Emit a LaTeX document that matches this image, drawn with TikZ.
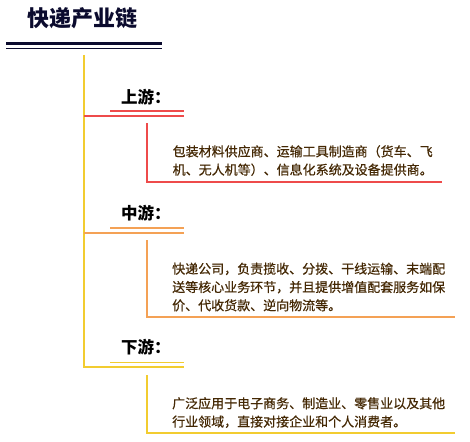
\documentclass[tikz,border=0pt]{standalone}
\usepackage{fontspec}
\newfontfamily\cjk{Noto Sans CJK SC}
\newfontfamily\cjkbody[FakeBold=0.6]{Noto Sans CJK SC}
\usetikzlibrary{positioning}
\definecolor{navy}{HTML}{0B0B2E}
\definecolor{upred}{HTML}{EE4B4B}
\definecolor{midorange}{HTML}{F4A155}
\definecolor{downyellow}{HTML}{F2CC30}
\definecolor{textbrown}{HTML}{442804}

\begin{document}
\begin{tikzpicture}[x=1pt, y=-1pt,
    stagename/.style={font=\cjk\fontsize{16.5}{18}\selectfont\bfseries, text=black, inner sep=0pt, anchor=west},
    descr/.style={font=\cjkbody\fontsize{13}{18.3}\selectfont, text=textbrown, align=left, inner sep=0pt, anchor=north west},
    mainrule/.style={line width=2pt},
    thinrule/.style={line width=1.5pt}]
            \useasboundingbox (0,0) rectangle (470,441);

            % Title with double rule
            \node[font=\cjk\fontsize{22}{24}\selectfont\bfseries, text=navy, anchor=west, inner sep=0pt] (title) at (27,18) {快递产业链};
            \draw[navy, line width=2.5pt] (6,43.5) -- (162,43.5);
            \draw[navy, thinrule] (6,48.3) -- (162,48.3);

            % Trunk, ending in the downstream branch
            \coordinate (trunktop) at (84,55);
            \coordinate (downend) at (184,367);
            \draw[downyellow, mainrule] (trunktop) |- (downend);

            % Upstream
            \draw[upred, mainrule] (84,116) -- (184,116);
            \draw[upred, thinrule] (110,111) -- (184,111);
            \node[stagename] (up) at (121,97) {上游：};
            \draw[upred, thinrule] (147,123) |- (442,182);
            \node[descr] (uptext) at (172.5,145) {包装材料供应商、运输工具制造商（货车、飞\\机、无人机等）、信息化系统及设备提供商。};

            % Midstream
            \draw[midorange, mainrule] (84,233) -- (184,233);
            \draw[midorange, thinrule] (110,228) -- (184,228);
            \node[stagename] (mid) at (121,213) {中游：};
            \draw[midorange, thinrule] (147,240) |- (455,317);
            \node[descr] (midtext) at (172,262.5) {快递公司，负责揽收、分拨、干线运输、末端配\\送等核心业务环节，并且提供增值配套服务如保\\价、代收货款、逆向物流等。};

            % Downstream
            \draw[downyellow, thinrule] (110,362.5) -- (184,362.5);
            \node[stagename] (down) at (121,347) {下游：};
            \draw[downyellow, thinrule] (147,375) |- (455,433);
            \node[descr] (downtext) at (172,397) {广泛应用于电子商务、制造业、零售业以及其他\\行业领域，直接对接企业和个人消费者。};

        \end{tikzpicture}
\end{document}
